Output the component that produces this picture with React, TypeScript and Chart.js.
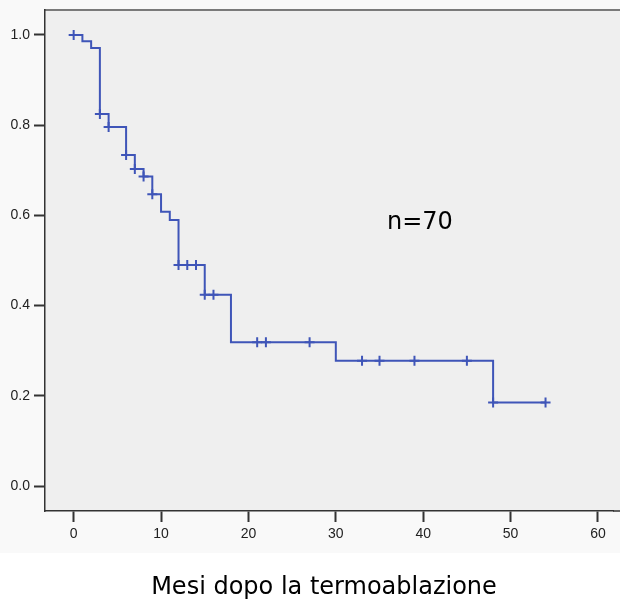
import React, { useEffect, useRef } from "react";
import { Chart, registerables } from "chart.js";

Chart.register(...registerables);

// Kaplan-Meier step curve: event times and survival after each step
const stepTimes = [0, 1, 2, 3, 4, 6, 7, 8, 9, 10, 11, 12, 15, 18, 30, 48, 54];
const stepSurvival = [1.0, 0.986, 0.971, 0.825, 0.796, 0.734, 0.703, 0.686, 0.647, 0.608, 0.59, 0.49, 0.424, 0.319, 0.278, 0.185, 0.185];

// Censored observations (months)
const censorTimes = [0, 3, 4, 6, 7, 8, 9, 12, 13, 14, 15, 16, 21, 22, 27, 33, 35, 39, 45, 48, 54];

const xTicks = [0, 10, 20, 30, 40, 50, 60];
const yTicks = [0, 0.2, 0.4, 0.6, 0.8, 1.0];

const annotationText = "n=70";
const xTitle = "Mesi dopo la termoablazione";

function survivalAt(t: number): number {
  let s = stepSurvival[0];
  for (let i = 0; i < stepTimes.length; i++) {
    if (stepTimes[i] <= t) s = stepSurvival[i];
  }
  return s;
}

const COLOR = "#3f55b8";

export default function App() {
  const ref = useRef<HTMLCanvasElement | null>(null);

  useEffect(() => {
    if (!ref.current) return;

    const decor = {
      id: "decor",
      beforeDraw(chart: any) {
        const { ctx, chartArea } = chart;
        ctx.save();
        ctx.fillStyle = "#ffffff";
        ctx.fillRect(0, 0, chart.width, chart.height);
        ctx.fillStyle = "#f9f9f9";
        ctx.fillRect(0, 0, chart.width, 553);
        ctx.fillStyle = "#efefef";
        ctx.fillRect(chartArea.left, chartArea.top, chart.width - chartArea.left, chartArea.bottom - chartArea.top);
        ctx.strokeStyle = "#7a7a7a";
        ctx.lineWidth = 2;
        ctx.beginPath();
        ctx.moveTo(chartArea.left, chartArea.top);
        ctx.lineTo(chart.width, chartArea.top);
        ctx.stroke();
        ctx.restore();
      },
      afterDraw(chart: any) {
        const { ctx, chartArea } = chart;
        ctx.save();
        ctx.strokeStyle = "#333333";
        ctx.lineWidth = 1.5;
        ctx.beginPath();
        ctx.moveTo(chartArea.right, chartArea.bottom);
        ctx.lineTo(chart.width, chartArea.bottom);
        ctx.stroke();
        ctx.fillStyle = "#000000";
        ctx.font = "24px 'DejaVu Sans'";
        ctx.textAlign = "left";
        ctx.textBaseline = "alphabetic";
        ctx.fillText(annotationText, 387, 229);
        ctx.textAlign = "center";
        ctx.font = "24px 'DejaVu Sans'";
        ctx.fillText(xTitle, 324, 594);
        ctx.restore();
      },
    };

    const chart = new Chart(ref.current, {
      type: "line",
      data: {
        datasets: [
          {
            label: "survival",
            data: stepTimes.map((t, i) => ({ x: t, y: stepSurvival[i] })),
            stepped: true,
            borderColor: COLOR,
            borderWidth: 2,
            pointRadius: 0,
            pointHoverRadius: 0,
            fill: false,
          },
          {
            label: "censored",
            data: censorTimes.map((t) => ({ x: t, y: survivalAt(t) })),
            showLine: false,
            pointStyle: "cross",
            pointRadius: 5,
            pointHoverRadius: 0,
            pointBorderWidth: 2,
            pointBorderColor: COLOR,
            pointBackgroundColor: COLOR,
          },
        ],
      },
      options: {
        animation: false,
        responsive: false,
        maintainAspectRatio: false,
        layout: { padding: { top: 10, right: 0, left: 0, bottom: 0 } },
        plugins: {
          legend: { display: false },
          tooltip: { enabled: false },
        },
        scales: {
          x: {
            type: "linear",
            min: -3.28,
            max: 61.72,
            afterFit: (s: any) => {
              s.height = 96;
              s.paddingLeft = 0;
              s.paddingRight = 0;
            },
            afterBuildTicks: (s: any) => {
              s.ticks = xTicks.map((v) => ({ value: v }));
            },
            grid: {
              drawOnChartArea: false,
              drawTicks: true,
              tickLength: 11,
              tickWidth: 2,
              tickColor: "#333333",
            },
            border: { display: true, color: "#333333", width: 1.5 },
            ticks: {
              padding: 4,
              color: "#222222",
              font: { family: "'Liberation Sans', Arial", size: 14 },
              maxRotation: 0,
              callback: (v: any) => String(v),
            },
          },
          y: {
            type: "linear",
            min: -0.0554,
            max: 1.0554,
            afterFit: (s: any) => {
              s.width = 45;
              s.paddingTop = 0;
              s.paddingBottom = 0;
            },
            afterBuildTicks: (s: any) => {
              s.ticks = yTicks.map((v) => ({ value: v }));
            },
            grid: {
              drawOnChartArea: false,
              drawTicks: true,
              tickLength: 11,
              tickWidth: 2,
              tickColor: "#333333",
            },
            border: { display: true, color: "#333333", width: 1.5 },
            ticks: {
              padding: 4,
              color: "#222222",
              font: { family: "'Liberation Sans', Arial", size: 14 },
              callback: (v: any) => Number(v).toFixed(1),
            },
          },
        },
      },
      plugins: [decor],
    });

    return () => chart.destroy();
  }, []);

  return (
    <div style={{ position: "absolute", left: 0, top: 0, width: 620, height: 607 }}>
      <canvas ref={ref} width={620} height={607} style={{ display: "block" }} />
    </div>
  );
}
